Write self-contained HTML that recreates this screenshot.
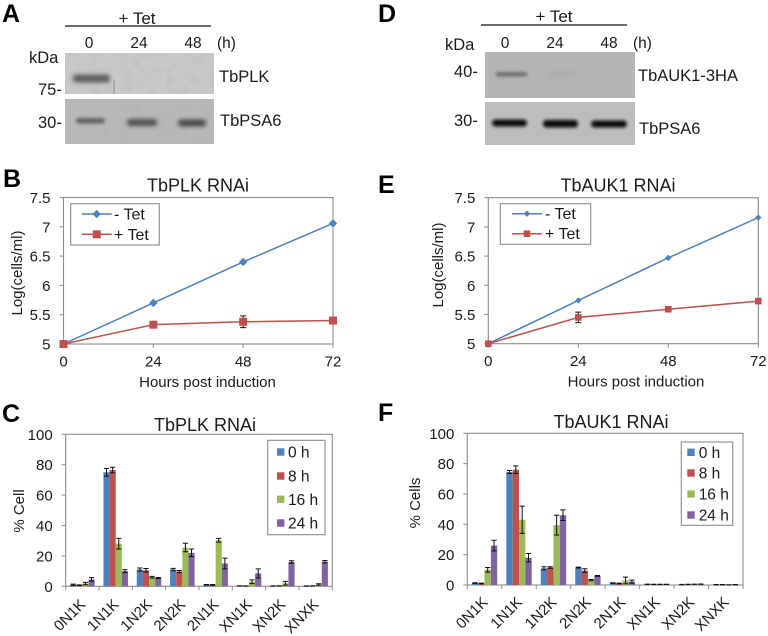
<!DOCTYPE html>
<html lang="en">
<head>
<meta charset="utf-8">
<title>TbPLK and TbAUK1 RNAi</title>
<style>
html,body{margin:0;padding:0;background:#fff;}
#fig{display:block;width:768px;height:636px;font-family:"Liberation Sans",Arial,sans-serif;fill:#1a1a1a;}
</style>
</head>
<body>
<svg id="fig" xmlns="http://www.w3.org/2000/svg" width="768" height="636" viewBox="0 0 768 636">
<defs>
<filter id="b1" x="-30%" y="-150%" width="160%" height="400%"><feGaussianBlur stdDeviation="1.5"/></filter>
<filter id="b2" x="-30%" y="-150%" width="160%" height="400%"><feGaussianBlur stdDeviation="2"/></filter>
<filter id="grain" x="0" y="0" width="100%" height="100%">
<feTurbulence type="fractalNoise" baseFrequency="0.09" numOctaves="2" seed="4"/>
<feColorMatrix type="matrix" values="0 0 0 0 0.4  0 0 0 0 0.4  0 0 0 0 0.4  0.6 0 0 0 -0.24"/>
</filter>
</defs>

<g>
<text x="2" y="22" font-size="25" font-weight="bold" fill="#000">A</text>
<text x="137" y="24" font-size="17" text-anchor="middle">+ Tet</text>
<line x1="65" y1="26" x2="211" y2="26" stroke="#111" stroke-width="1.2"/>
<text x="89" y="48" font-size="15.5" text-anchor="middle">0</text>
<text x="139" y="48" font-size="15.5" text-anchor="middle">24</text>
<text x="193" y="48" font-size="15.5" text-anchor="middle">48</text>
<text x="217" y="48" font-size="15.5">(h)</text>
<text x="29" y="63" font-size="16.5">kDa</text>
<text x="38" y="95" font-size="16.5">75-</text>
<text x="38" y="128" font-size="16.5">30-</text>
<rect x="65" y="53" width="149" height="41" fill="#c8c8c8"/>
<rect x="65" y="53" width="149" height="41" filter="url(#grain)"/>
<rect x="73" y="74.5" width="37" height="8" rx="3" fill="#5e5e5e" filter="url(#b2)"/>
<rect x="113.6" y="80" width="1" height="14" fill="#8a8a8a"/>
<rect x="65" y="99" width="149" height="45" fill="#b9b9b9"/>
<rect x="65" y="99" width="149" height="45" filter="url(#grain)"/>
<rect x="76" y="118" width="29" height="5.5" rx="2.5" fill="#626262" filter="url(#b1)"/>
<rect x="127" y="119" width="30" height="7" rx="3" fill="#505050" filter="url(#b2)"/>
<rect x="178" y="119.5" width="28" height="7" rx="3" fill="#4a4a4a" filter="url(#b2)"/>
<text x="219" y="82" font-size="16.5">TbPLK</text>
<text x="220" y="126" font-size="16.5">TbPSA6</text>
</g>

<g>
<text x="378" y="22" font-size="25" font-weight="bold" fill="#000">D</text>
<text x="554" y="22" font-size="17" text-anchor="middle">+ Tet</text>
<line x1="481" y1="25" x2="627" y2="25" stroke="#111" stroke-width="1.2"/>
<text x="445" y="50" font-size="16.5">kDa</text>
<text x="505" y="48" font-size="15.5" text-anchor="middle">0</text>
<text x="555" y="48" font-size="15.5" text-anchor="middle">24</text>
<text x="609" y="48" font-size="15.5" text-anchor="middle">48</text>
<text x="633" y="48" font-size="15.5">(h)</text>
<text x="454" y="77" font-size="16.5">40-</text>
<text x="454" y="126" font-size="16.5">30-</text>
<rect x="485" y="52" width="150" height="46" fill="#b4b4b4"/>
<rect x="496" y="72" width="31" height="4.5" rx="2" fill="#6e6e6e" filter="url(#b1)"/>
<rect x="549" y="72.5" width="28" height="3" rx="2" fill="#a8a8a8" filter="url(#b2)"/>
<rect x="485" y="102" width="150" height="43" fill="#bdbdbd"/>
<rect x="492" y="119.5" width="35" height="7" rx="3.5" fill="#0d0d0d" filter="url(#b1)"/>
<rect x="543" y="120" width="35" height="7.5" rx="3.5" fill="#0d0d0d" filter="url(#b1)"/>
<rect x="591" y="120.5" width="36" height="7" rx="3.5" fill="#111" filter="url(#b1)"/>
<text x="638" y="81" font-size="16.5">TbAUK1-3HA</text>
<text x="639" y="134" font-size="16.5">TbPSA6</text>
</g>

<text x="3" y="187" font-size="25" font-weight="bold" fill="#000">B</text>
<text x="378" y="193" font-size="25" font-weight="bold" fill="#000">E</text>
<text x="2" y="422" font-size="25" font-weight="bold" fill="#000">C</text>
<text x="378" y="421" font-size="25" font-weight="bold" fill="#000">F</text>
<g id="charts"></g>
</svg>

<script>
// Line charts
const lineHours = [0, 24, 48, 72];
const lineTicksY = ['5', '5.5', '6', '6.5', '7', '7.5'];
const lineSeriesNames = ['- Tet', '+ Tet'];
const plkMinusTet = [5, 5.7, 6.4, 7.06];
const plkPlusTet = [5, 5.33, 5.38, 5.4];
const plkPlusErr = [0, 0.03, 0.1, 0.02];
const aukMinusTet = [5, 5.74, 6.47, 7.16];
const aukPlusTet = [5, 5.45, 5.59, 5.73];
const aukPlusErr = [0, 0.09, 0.02, 0.02];

// Bar charts
const phenotypes = ['0N1K', '1N1K', '1N2K', '2N2K', '2N1K', 'XN1K', 'XN2K', 'XNXK'];
const barTicksY = [0, 20, 40, 60, 80, 100];
const timeNames = ['0 h', '8 h', '16 h', '24 h'];
const plk0h = [1, 75, 11, 11, 1, 0.3, 0.2, 0.2];
const plk8h = [0.7, 76.5, 10.5, 9.7, 1, 0.2, 0.3, 0.3];
const plk16h = [1.8, 28, 6, 25.5, 30.3, 3, 2, 1.2];
const plk24h = [4.5, 10, 5.5, 22, 15, 8.5, 16, 16.2];
const plk0hErr = [0.4, 2.5, 1, 0.8, 0.2, 0.1, 0.1, 0.1];
const plk8hErr = [0.2, 1.8, 1.2, 0.7, 0.2, 0.1, 0.1, 0.1];
const plk16hErr = [0.8, 3.5, 0.5, 2.8, 1.2, 1.2, 1.2, 0.5];
const plk24hErr = [1.2, 1, 0.3, 2.5, 3.5, 3, 0.8, 0.8];
const auk0h = [1.3, 74.5, 11, 11.5, 1.3, 0.5, 0.3, 0.2];
const auk8h = [1, 76, 11.5, 9.5, 1, 0.4, 0.4, 0.2];
const auk16h = [10, 43, 39.5, 3.2, 3, 0.4, 0.5, 0.1];
const auk24h = [26, 18, 46, 6, 2.2, 0.4, 0.6, 0.2];
const auk0hErr = [0.2, 1, 1, 0.3, 0.2, 0.1, 0.1, 0.1];
const auk8hErr = [0.2, 2.5, 0.5, 1.2, 0.2, 0.1, 0.1, 0.1];
const auk16hErr = [1.5, 9, 6.5, 0.4, 2.2, 0.1, 0.1, 0.1];
const auk24hErr = [3.5, 2.8, 3.5, 0.3, 1, 0.1, 0.1, 0.1];

const NS = 'http://www.w3.org/2000/svg';
const root = document.getElementById('charts');
const AXIS = '#8c8c8c';
const BLUE = '#4f81bd', RED = '#c0504d', GREEN = '#9bbb59', PURPLE = '#8064a2';

function mk(parent, tag, props, txt) {
  const n = document.createElementNS(NS, tag);
  for (const k in props) n.setAttribute(k, props[k]);
  if (txt !== undefined) n.textContent = txt;
  parent.appendChild(n);
  return n;
}

function frame(g, f) {
  const r = mk(g, 'rect', {x: f.l, y: f.t, width: f.r - f.l, height: f.b - f.t, fill: 'none', stroke: AXIS, 'stroke-width': 1.1});
  
  
}

function errBar(g, x, yHi, yLo, w) {
  const e = mk(g, 'path', {d: `M${x - w} ${yHi}H${x + w}M${x} ${yHi}V${yLo}M${x - w} ${yLo}H${x + w}`, stroke: '#111', 'stroke-width': 1, fill: 'none'});
  
  
}

function lineChart(name, f, title, titleX, seriesA, seriesB, errB, o) {
  const g = mk(root, 'g', {});
  
  
  const sx = v => f.l + (v - lineHours[0]) / (lineHours[lineHours.length - 1] - lineHours[0]) * (f.r - f.l);
  const sy = v => f.b - (v - 5) / 2.5 * (f.b - f.t);
  frame(g, f);

  const tt = mk(g, 'text', {x: titleX, y: f.t - 6, 'font-size': 18, 'text-anchor': 'middle'}, title);
  
  

  lineTicksY.forEach(t => {
    const y = sy(parseFloat(t));
    const tk = mk(g, 'line', {x1: f.l - 4, x2: f.l, y1: y, y2: y, stroke: AXIS});
    
    
    const lb = mk(g, 'text', {x: f.l - 13, y: y + 5.5, 'font-size': 15, 'text-anchor': 'end'}, t);
    
    
  });
  lineHours.forEach(h => {
    const x = sx(h);
    const tk = mk(g, 'line', {x1: x, x2: x, y1: f.b, y2: f.b + 4, stroke: AXIS});
    
    
    const lb = mk(g, 'text', {x: x, y: f.b + 22.5, 'font-size': 15, 'text-anchor': 'middle'}, String(h));
    
    
  });

  const xt = mk(g, 'text', {x: o.xTitleX, y: f.b + 43, 'font-size': 15, 'text-anchor': 'middle'}, 'Hours post induction');
  
  
  const yt = mk(g, 'text', {transform: `translate(${o.yTitleX} ${o.yTitleY}) rotate(-90)`, 'font-size': 15, 'text-anchor': 'middle'}, 'Log(cells/ml)');
  
  

  const pA = lineHours.map((h, i) => sx(h) + ',' + sy(seriesA[i])).join(' ');
  const lA = mk(g, 'polyline', {points: pA, fill: 'none', stroke: BLUE, 'stroke-width': 1.5});
  
  
  seriesB.forEach((v, i) => {
    if (errB[i] > 0) errBar(g, sx(lineHours[i]), sy(v + errB[i]), sy(v - errB[i]), 3);
  });
  const pB = lineHours.map((h, i) => sx(h) + ',' + sy(seriesB[i])).join(' ');
  const lB = mk(g, 'polyline', {points: pB, fill: 'none', stroke: RED, 'stroke-width': 1.5});
  
  

  const d = o.dia, s = o.sq;
  seriesA.forEach((v, i) => {
    const x = sx(lineHours[i]), y = sy(v);
    const m = mk(g, 'path', {d: `M${x} ${y - d}L${x + d} ${y}L${x} ${y + d}L${x - d} ${y}Z`, fill: BLUE});
    
    
  });
  seriesB.forEach((v, i) => {
    const x = sx(lineHours[i]), y = sy(v);
    const m = mk(g, 'rect', {x: x - s, y: y - s, width: 2 * s, height: 2 * s, fill: RED});
    
    
  });

  const L = o.legend;
  const box = mk(g, 'rect', {x: L.x, y: L.y, width: L.w, height: L.h, fill: '#fff', stroke: AXIS, 'stroke-width': 1.1});
  
  
  lineSeriesNames.forEach((nm, i) => {
    const y = L.ys[i], c = i ? RED : BLUE;
    const ln = mk(g, 'line', {x1: L.lx, x2: L.lx + 30, y1: y, y2: y, stroke: c, 'stroke-width': 1.5});
    
    
    const cx = L.lx + 15;
    const mark = i
      ? mk(g, 'rect', {x: cx - s, y: y - s, width: 2 * s, height: 2 * s, fill: c})
      : mk(g, 'path', {d: `M${cx} ${y - d}L${cx + d} ${y}L${cx} ${y + d}L${cx - d} ${y}Z`, fill: c});
    
    
    const tx = mk(g, 'text', {x: L.tx, y: y + 5.5, 'font-size': 16}, nm);
    
    
  });
}

function barChart(name, f, title, titleX, yTitle, series, errs, o) {
  const g = mk(root, 'g', {});
  
  
  const n = phenotypes.length;
  const slot = (f.r - f.l) / n;
  const bw = slot * 0.184;
  const sy = v => f.b - v / 100 * (f.b - f.t);
  const colors = [BLUE, RED, GREEN, PURPLE];
  frame(g, f);

  const tt = mk(g, 'text', {x: titleX, y: o.titleY, 'font-size': 18, 'text-anchor': 'middle'}, title);
  
  

  barTicksY.forEach(t => {
    const y = sy(t);
    const tk = mk(g, 'line', {x1: f.l - 4, x2: f.l, y1: y, y2: y, stroke: AXIS});
    
    
    const lb = mk(g, 'text', {x: f.l - 13, y: y + 5.5, 'font-size': 15, 'text-anchor': 'end'}, String(t));
    
    
  });
  for (let i = 0; i <= n; i++) {
    const x = f.l + i * slot;
    const tk = mk(g, 'line', {x1: x, x2: x, y1: f.b, y2: f.b + 4, stroke: AXIS});
    
    
  }
  phenotypes.forEach((p, i) => {
    const cx = f.l + (i + 0.5) * slot;
    const lb = mk(g, 'text', {transform: `translate(${cx + 4} ${f.b + o.xLabelDy}) rotate(-45)`, 'font-size': 15, 'text-anchor': 'end'}, p);
    
    
    series.forEach((vals, s) => {
      const x = cx - 2 * bw + s * bw;
      const b = mk(g, 'rect', {x: x, y: sy(vals[i]), width: bw, height: f.b - sy(vals[i]), fill: colors[s]});
      
      
    });
    series.forEach((vals, s) => {
      const x = cx - 2 * bw + (s + 0.5) * bw;
      errBar(g, x, sy(vals[i] + errs[s][i]), sy(Math.max(0, vals[i] - errs[s][i])), 2.6);
    });
  });

  const yt = mk(g, 'text', {transform: `translate(${o.yTitleX} ${o.yTitleY}) rotate(-90)`, 'font-size': 15, 'text-anchor': 'middle'}, yTitle);
  
  

  const L = o.legend;
  const box = mk(g, 'rect', {x: L.x, y: L.y, width: L.w, height: L.h, fill: '#fff', stroke: AXIS, 'stroke-width': 1.1});
  
  
  timeNames.forEach((nm, i) => {
    const y = L.ys[i];
    const sw = mk(g, 'rect', {x: L.sx, y: y - 3.7, width: 7.4, height: 7.4, fill: colors[i]});
    
    
    const tx = mk(g, 'text', {x: L.tx, y: y + 5.5, 'font-size': 15.5}, nm);
    
    
  });
}

lineChart('tbplk-growth-chart', {l: 63.5, r: 333, t: 197.5, b: 344}, 'TbPLK RNAi', 198,
  plkMinusTet, plkPlusTet, plkPlusErr,
  {xTitleX: 207.5, yTitleX: 22, yTitleY: 273, dia: 4.2, sq: 4, legend: {x: 70.7, y: 203.7, w: 88.6, h: 41.3, lx: 81.7, tx: 114, ys: [214, 234.3]}});

lineChart('tbauk1-growth-chart', {l: 488.3, r: 758.3, t: 197.7, b: 343.7}, 'TbAUK1 RNAi', 618,
  aukMinusTet, aukPlusTet, aukPlusErr,
  {xTitleX: 636, yTitleX: 443, yTitleY: 265, dia: 3.2, sq: 3.3, legend: {x: 500.3, y: 203.7, w: 90.4, h: 40.6, lx: 512, tx: 545, ys: [213.7, 233.7]}});

barChart('tbplk-phenotype-chart', {l: 65.7, r: 332.3, t: 434.3, b: 586.3}, 'TbPLK RNAi', 205, '% Cell',
  [plk0h, plk8h, plk16h, plk24h], [plk0hErr, plk8hErr, plk16hErr, plk24hErr],
  {titleY: 431, yTitleX: 24, yTitleY: 511, xLabelDy: 19, legend: {x: 267.7, y: 440.3, w: 57.3, h: 94.4, sx: 277, tx: 288, ys: [452, 476, 499.3, 523]}});

barChart('tbauk1-phenotype-chart', {l: 467.3, r: 743, t: 433.3, b: 585}, 'TbAUK1 RNAi', 611, '% Cells',
  [auk0h, auk8h, auk16h, auk24h], [auk0hErr, auk8hErr, auk16hErr, auk24hErr],
  {titleY: 428, yTitleX: 420, yTitleY: 503, xLabelDy: 18, legend: {x: 681.3, y: 442, w: 51.4, h: 83.3, sx: 687.3, tx: 698.7, ys: [452.3, 473, 494, 515]}});
</script>
</body>
</html>
